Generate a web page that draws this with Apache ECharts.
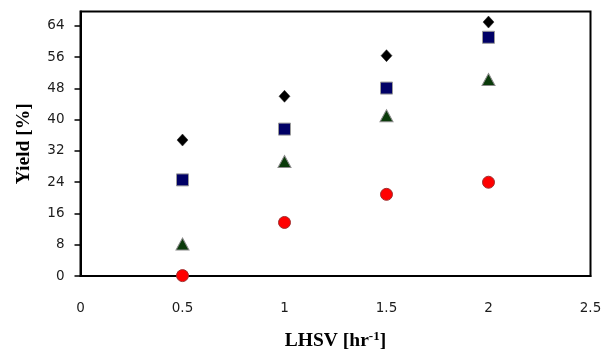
<!DOCTYPE html>
<html>
<head>
<meta charset="utf-8">
<script src="https://cdn.jsdelivr.net/npm/echarts@6/dist/echarts.min.js"></script>
<style>
  html, body { margin: 0; padding: 0; background: #fff; }
  #chart { width: 602px; height: 354px; }
</style>
</head>
<body>
<div id="chart"></div>
<script>
// LHSV values (hr^-1) shared by every series
const lhsv = [0.5, 1.0, 1.5, 2.0];

// Yield [%] per series
const yieldDiamond = [34.8, 46.0, 56.4, 65.0];
const yieldSquare = [24.6, 37.6, 48.1, 61.1];
const yieldTriangle = [8.2, 29.3, 41.0, 50.3];
const yieldCircle = [0.1, 13.7, 20.9, 24.0];

// Tick labels
const xTicks = [0, 0.5, 1, 1.5, 2, 2.5];
const yTicks = [0, 8, 16, 24, 32, 40, 48, 56, 64];

const pairs = (ys) => lhsv.map((x, i) => [x, ys[i]]);

const tickFont = { fontFamily: 'DejaVu Sans', fontSize: 13.5, color: '#1c1c1c' };
const titleFont = { fontFamily: 'Liberation Serif', fontWeight: 'bold', fontSize: 19.5, color: '#000' };

const chart = echarts.init(document.getElementById('chart'), null, { renderer: 'canvas' });
chart.setOption({
  animation: false,
  backgroundColor: '#fff',
  grid: {
    left: 80.5, right: 11.5, top: 11.5, bottom: 78,
    outerBoundsMode: 'none',
    containLabel: false,
    show: true, borderColor: '#000', borderWidth: 2, backgroundColor: 'transparent'
  },
  xAxis: {
    type: 'value', min: 0, max: 2.5, interval: 0.5,
    splitLine: { show: false },
    axisLine: { show: true, onZero: false, lineStyle: { color: '#000', width: 2 } },
    axisTick: { show: false },
    axisLabel: {
      ...tickFont, margin: 25,
      customValues: xTicks,
      formatter: (v) => String(v)
    },
    name: '{b|LHSV [hr}{s|-1}{b|]}',
    nameLocation: 'middle',
    nameGap: 54,
    nameTextStyle: {
      rich: {
        b: { ...titleFont },
        s: { ...titleFont, fontSize: 13, verticalAlign: 'top', padding: [0, 0, 8, 0] }
      }
    }
  },
  yAxis: {
    type: 'value', min: 0, max: 67.7,
    splitLine: { show: false },
    axisLine: { show: true, onZero: false, lineStyle: { color: '#000', width: 2 } },
    axisTick: { show: true, inside: false, length: 6, lineStyle: { color: '#000', width: 1.5 }, customValues: yTicks },
    axisLabel: { ...tickFont, margin: 16, customValues: yTicks },
    name: 'Yield [%]',
    nameLocation: 'middle',
    nameGap: 47,
    nameTextStyle: { ...titleFont }
  },
  series: [
    {
      type: 'scatter', data: pairs(yieldDiamond),
      symbol: 'diamond', symbolSize: [11, 12],
      itemStyle: { color: '#000', borderColor: '#222', borderWidth: 0.5, opacity: 1 }
    },
    {
      type: 'scatter', data: pairs(yieldSquare),
      symbol: 'rect', symbolSize: 12,
      itemStyle: { color: '#000066', borderColor: '#9a9a9a', borderWidth: 1, opacity: 1 }
    },
    {
      type: 'scatter', data: pairs(yieldTriangle),
      symbol: 'triangle', symbolSize: [13, 12],
      itemStyle: { color: '#0a3a0a', borderColor: '#8a8a8a', borderWidth: 1, opacity: 1 }
    },
    {
      type: 'scatter', data: pairs(yieldCircle),
      symbol: 'circle', symbolSize: 12,
      itemStyle: { color: '#ff0000', borderColor: '#a03030', borderWidth: 1, opacity: 1 }
    }
  ]
});
</script>
</body>
</html>
